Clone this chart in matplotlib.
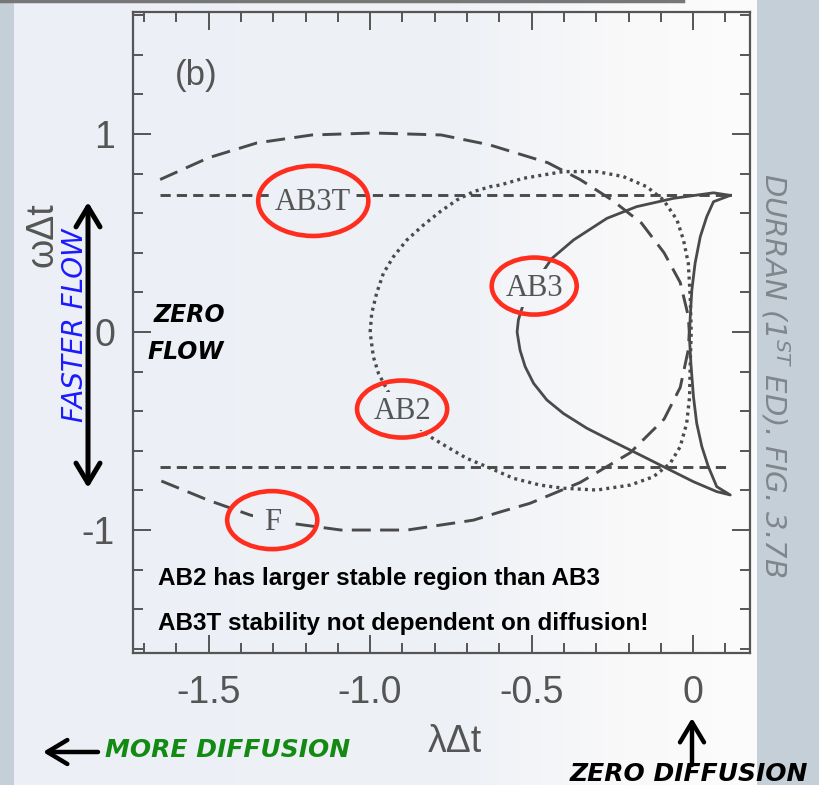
import numpy as np
import matplotlib
matplotlib.use("Agg")
import matplotlib.pyplot as plt
from matplotlib.patches import Ellipse, FancyArrowPatch
from matplotlib.colors import LinearSegmentedColormap
from matplotlib.ticker import FixedLocator, MultipleLocator

# --- data (lambda*dt, omega*dt) ---
# long-dashed curve (F)
f_lam = [-1.65, -1.50, -1.35, -1.18, -0.99, -0.78, -0.63, -0.45, -0.35, -0.25, -0.16, -0.09, -0.04,
         -0.015, -0.012, -0.015, -0.04, -0.09, -0.195, -0.35, -0.505, -0.60, -0.68, -0.885, -1.09,
         -1.25, -1.37, -1.50, -1.65]
f_om = [0.77, 0.88, 0.955, 0.995, 1.005, 0.995, 0.945, 0.855, 0.77, 0.665, 0.55, 0.40, 0.25,
        0.08, 0.0, -0.09, -0.28, -0.44, -0.61, -0.76, -0.865, -0.91, -0.95, -1.0, -1.0,
        -0.965, -0.925, -0.85, -0.75]

# dotted curve (AB2)
ab2_lam = [-1.0, -0.995, -0.98, -0.959, -0.928, -0.886, -0.835, -0.783, -0.731, -0.68, -0.628,
           -0.598, -0.526, -0.402, -0.298, -0.216, -0.144, -0.092, -0.05, -0.03, -0.015, -0.009,
           -0.006, -0.009, -0.011, -0.02, -0.04, -0.071, -0.123, -0.195, -0.298, -0.402, -0.474,
           -0.556, -0.639, -0.701, -0.763, -0.814, -0.88, -0.935, -0.974, -0.99, -1.0]
ab2_om = [0.0, 0.094, 0.195, 0.296, 0.38, 0.465, 0.54, 0.608, 0.667, 0.709, 0.734,
          0.742, 0.776, 0.81, 0.81, 0.785, 0.734, 0.667, 0.566, 0.465, 0.347, 0.178,
          0.0, -0.158, -0.327, -0.461, -0.579, -0.663, -0.731, -0.773, -0.798, -0.789, -0.773,
          -0.739, -0.68, -0.638, -0.579, -0.529, -0.44, -0.33, -0.209, -0.125, 0.0]

# solid curve (AB3), outer arc then inner branch
ab3_lam = [0.115, 0.063, -0.061, -0.175, -0.267, -0.37, -0.437, -0.48, -0.51, -0.525, -0.541,
           -0.545, -0.536, -0.52, -0.494, -0.453, -0.402, -0.329, -0.247, -0.164, -0.081, 0.001,
           0.073, 0.115, 0.073, 0.047, 0.027, 0.011, 0.001, -0.007, -0.011, -0.011, -0.009,
           -0.004, 0.006, 0.022, 0.042, 0.063, 0.115]
ab3_om = [0.69, 0.703, 0.675, 0.633, 0.574, 0.465, 0.372, 0.27, 0.2, 0.145, 0.061,
          0.0, -0.091, -0.175, -0.259, -0.343, -0.411, -0.486, -0.554, -0.621, -0.689, -0.756,
          -0.806, -0.823, -0.781, -0.68, -0.579, -0.461, -0.327, -0.158, -0.04, 0.0, 0.077,
          0.212, 0.347, 0.481, 0.582, 0.658, 0.69]

# short-dashed lines (AB3T)
ab3t_lam = [-1.65, 0.115]
ab3t_om_up = [0.69, 0.69]
ab3t_om_dn = [-0.68, -0.68]

xticks = [-1.5, -1.0, -0.5, 0.0]
xticklabels = ["-1.5", "-1.0", "-0.5", "0"]
yticks = [-1, 0, 1]
yticklabels = ["-1", "0", "1"]

W, H = 819, 785


def fx(px):
    return px / W


def fy(py):
    return 1 - py / H


ink = "#4a4a4a"
grey = "#555555"
red = "#ff2d1e"

fig = plt.figure(figsize=(W / 100, H / 100), dpi=100)
fig.patch.set_facecolor("#c5cfd7")

# page background
page = LinearSegmentedColormap.from_list(
    "page", [(0, "#eceff5"), (0.6, "#eef1f6"), (0.82, "#f9f9fa"), (1, "#fcfcfc")])
bg = fig.add_axes([fx(14), 0, fx(757) - fx(14), 1])
bg.imshow(np.linspace(0, 1, 256)[None, :], cmap=page, aspect="auto", extent=[0, 1, 0, 1])
bg.set_axis_off()
fig.add_artist(plt.Line2D([0, fx(683)], [fy(1), fy(1)], color="#777777", lw=2.5,
                          transform=fig.transFigure))


def page_col(px):
    return page((px - 14) / (757 - 14))


ax = fig.add_axes([fx(133), fy(653), fx(750) - fx(133), fy(12) - fy(653)])
ax.set_facecolor("none")

ax.plot(f_lam, f_om, color=ink, lw=2.1, ls=(0, (6.5, 3.2)))
ax.plot(ab2_lam, ab2_om, color=ink, lw=2.4, ls=(0, (0.9, 1.25)))
ax.plot(ab3_lam, ab3_om, color=ink, lw=2.0, solid_joinstyle="round")
ax.plot(ab3t_lam, ab3t_om_up, color=ink, lw=2.1, ls=(0, (3.5, 2.1)))
ax.plot(ab3t_lam, ab3t_om_dn, color=ink, lw=2.1, ls=(0, (3.5, 2.1)))

ax.set_xlim(-1.734, 0.176)
ax.set_ylim(-1.621, 1.616)

ax.xaxis.set_major_locator(FixedLocator(xticks))
ax.set_xticklabels(xticklabels)
ax.xaxis.set_minor_locator(MultipleLocator(0.1))
ax.yaxis.set_major_locator(FixedLocator(yticks))
ax.set_yticklabels(yticklabels)
ax.yaxis.set_minor_locator(MultipleLocator(0.2))
ax.tick_params(which="both", direction="in", top=True, right=True, color=grey, width=1.4,
               labelcolor=grey, labelsize=27)
ax.tick_params(which="major", length=13)
ax.tick_params(which="minor", length=7)
ax.tick_params(axis="x", pad=16)
ax.tick_params(axis="y", pad=13)
for lab in ax.get_xticklabels() + ax.get_yticklabels():
    lab.set_family("Liberation Sans")
for sp in ax.spines.values():
    sp.set_color(grey)
    sp.set_linewidth(1.6)

# curve labels with red circles
labels = [("AB3T", -1.176, 0.652, 313, 0.341, 0.354, 0.15),
          ("AB3", -0.492, 0.222, 534, 0.263, 0.288, 0.15),
          ("AB2", -0.901, -0.399, 402, 0.279, 0.288, 0.15),
          ("F", -1.303, -0.960, 272, 0.279, 0.293, 0.35)]
for txt, lx, ly, px, ew, eh, pad in labels:
    ax.text(lx, ly, txt, ha="center", va="center", family="Liberation Serif", fontsize=22,
            color=grey, zorder=3,
            bbox=dict(boxstyle="square,pad=%g" % pad, fc=page_col(px), ec="none"))
    ax.add_patch(Ellipse((lx, ly + 0.01), ew, eh, fill=False, ec=red, lw=3.3, zorder=4))

fig.text(fx(196), fy(75), "(b)", ha="center", va="center", family="Liberation Sans",
         fontsize=25, color=grey)
fig.text(fx(43), fy(235), "ωΔt", rotation=90, ha="center", va="center",
         family="Liberation Sans", fontsize=27, color=grey)
fig.text(fx(455), fy(742), "λΔt", ha="center", va="center",
         family="Liberation Sans", fontsize=27, color=grey)

# annotations
note = dict(family="DejaVu Sans", style="oblique")
fig.text(fx(189), fy(315), "ZERO", ha="center", va="center", fontsize=17, weight="bold",
         color="black", **note)
fig.text(fx(186), fy(352), "FLOW", ha="center", va="center", fontsize=17, weight="bold",
         color="black", **note)
fig.text(fx(75), fy(325), "FASTER FLOW", rotation=90, ha="center", va="center", fontsize=20,
         color="#1a1aff", **note)
fig.text(fx(228), fy(750), "MORE DIFFUSION", ha="center", va="center", fontsize=18,
         weight="bold", color="#138a13", **note)
fig.text(fx(689), fy(774), "ZERO DIFFUSION", ha="center", va="center", fontsize=18,
         weight="bold", color="black", **note)
fig.text(fx(775), fy(375), r"DURRAN (1$^{\mathregular{ST}}$ ED). FIG. 3.7B", rotation=-90,
         ha="center", va="center", fontsize=21, color="#80868d", **note)

big = dict(family="Liberation Sans", weight="bold", fontsize=17.5,
           color="black", ha="left", va="baseline")
fig.text(fx(158), fy(585), "AB2 has larger stable region than AB3", **big)
fig.text(fx(158), fy(630), "AB3T stability not dependent on diffusion!", **big)

arrows = [((88, 488), (88, 202), "<->", 3.6),
          ((98, 752), (43, 752), "->", 3.2),
          ((692, 765), (692, 718), "->", 3.2)]
for (x0, y0), (x1, y1), style, lw in arrows:
    fig.add_artist(FancyArrowPatch((fx(x0), fy(y0)), (fx(x1), fy(y1)),
                                   transform=fig.transFigure,
                                   arrowstyle=style + ",head_length=0.45,head_width=0.27",
                                   mutation_scale=32, lw=lw, color="black",
                                   shrinkA=0, shrinkB=0))

fig.savefig("out.png", dpi=100, facecolor=fig.get_facecolor())
